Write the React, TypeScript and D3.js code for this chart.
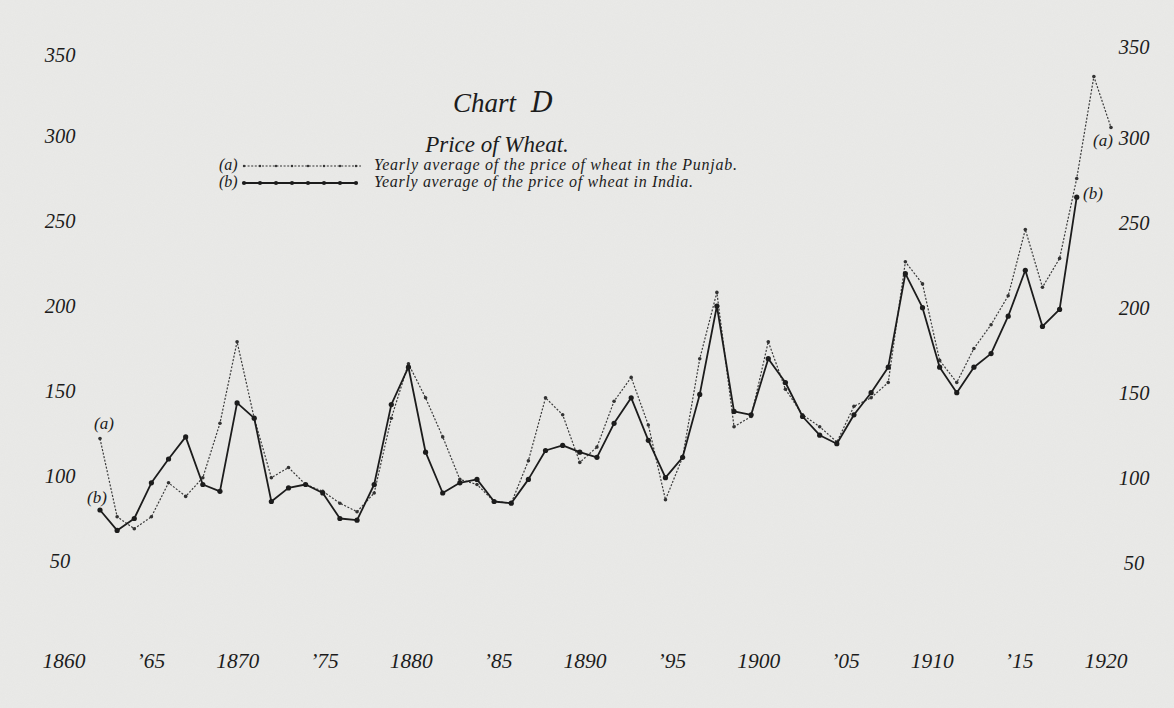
import React from "react";
import * as d3 from "d3";

const W = 1174;
const H = 708;

// Years for series (a): Punjab, 1861–1920
const yearsA = [
  1861, 1862, 1863, 1864, 1865, 1866, 1867, 1868, 1869, 1870,
  1871, 1872, 1873, 1874, 1875, 1876, 1877, 1878, 1879, 1880,
  1881, 1882, 1883, 1884, 1885, 1886, 1887, 1888, 1889, 1890,
  1891, 1892, 1893, 1894, 1895, 1896, 1897, 1898, 1899, 1900,
  1901, 1902, 1903, 1904, 1905, 1906, 1907, 1908, 1909, 1910,
  1911, 1912, 1913, 1914, 1915, 1916, 1917, 1918, 1919, 1920,
];
// (a) Yearly average of the price of wheat in the Punjab
const punjab = [
  122, 76, 69, 76, 96, 88, 99, 131, 179, 134,
  99, 105, 95, 91, 84, 79, 90, 134, 166, 146,
  123, 98, 95, 85, 84, 109, 146, 136, 108, 117,
  144, 158, 130, 86, 111, 169, 208, 129, 135, 179,
  151, 136, 129, 120, 141, 146, 155, 226, 213, 168,
  155, 175, 189, 206, 245, 211, 228, 275, 335, 305,
];
// Years for series (b): India, 1861–1918
const yearsB = yearsA.slice(0, 58);
// (b) Yearly average of the price of wheat in India
const india = [
  80, 68, 75, 96, 110, 123, 95, 91, 143, 134,
  85, 93, 95, 90, 75, 74, 95, 142, 164, 114,
  90, 96, 98, 85, 84, 98, 115, 118, 114, 111,
  131, 146, 121, 99, 111, 148, 200, 138, 136, 169,
  155, 135, 124, 119, 136, 149, 164, 219, 199, 164,
  149, 164, 172, 194, 221, 188, 198, 264,
];

const xTickYears = [1860, 1865, 1870, 1875, 1880, 1885, 1890, 1895, 1900, 1905, 1910, 1915, 1920];
const xTickLabels = ["1860", "\u201965", "1870", "\u201975", "1880", "\u201985", "1890", "\u201995", "1900", "\u201905", "1910", "\u201915", "1920"];
const yTicks = [50, 100, 150, 200, 250, 300, 350];

const title = "Chart";
const subtitle = "Price of Wheat.";
const legendA = "Yearly average of the price of wheat in the Punjab.";
const legendB = "Yearly average of the price of wheat in India.";

// data scale (plotted points)
const x = d3.scaleLinear().domain([1861, 1920]).range([100, 1111]);
// the printed year scale along the bottom (hand-lettered, slightly offset)
const xLabel = d3.scaleLinear().domain([1860, 1920]).range([64, 1106]);
const y = d3.scaleLinear().domain([100, 300]).range([476, 136]);

const ink = "#1c1c1c";
const font = "'Liberation Serif', 'DejaVu Serif', serif";

export default function App() {
  const ptsA: [number, number][] = yearsA.map((yr, i) => [x(yr), y(punjab[i])]);
  const ptsB: [number, number][] = yearsB.map((yr, i) => [x(yr), y(india[i])]);
  const line = d3.line();
  const legendDotsB = d3.range(0, 8).map((i) => 244 + i * 16);
  const legendDotsA = d3.range(0, 8).map((i) => 244 + i * 16);

  return (
    <svg
      width={W}
      height={H}
      style={{ position: "absolute", left: 0, top: 0, display: "block" }}
      fontFamily={font}
    >
      <defs>
        <filter id="paper" x="0" y="0" width="100%" height="100%">
          <feTurbulence type="fractalNoise" baseFrequency="0.9" numOctaves="2" seed="3" result="n" />
          <feColorMatrix
            in="n"
            type="matrix"
            values="0 0 0 0 0.55  0 0 0 0 0.55  0 0 0 0 0.54  0 0 0 0.16 0"
          />
        </filter>
      </defs>
      <rect x={0} y={0} width={W} height={H} fill="#eaeae8" />
      <rect x={0} y={0} width={W} height={H} filter="url(#paper)" opacity={0.55} />

      {/* Title */}
      <text x={453} y={112} fontSize={27} fontStyle="italic" fill={ink}>
        {title}
      </text>
      <text x={531} y={112} fontSize={28} fontStyle="italic" fill={ink} fontFamily="'DejaVu Serif', serif">
        D
      </text>
      <text x={497} y={152} fontSize={23} fontStyle="italic" fill={ink} textAnchor="middle">
        {subtitle}
      </text>

      {/* Legend */}
      <text x={219} y={170} fontSize={16} fontStyle="italic" fill={ink}>(a)</text>
      <line x1={244} y1={166} x2={361} y2={166} stroke="#333" strokeWidth={1.1} strokeDasharray="2,1.6" />
      {legendDotsA.map((cx, i) => (
        <circle key={"la" + i} cx={cx} cy={166} r={1.2} fill="#333" />
      ))}
      <text x={374} y={170} fontSize={16} fontStyle="italic" fill={ink} textLength={363} lengthAdjust="spacing">{legendA}</text>

      <text x={219} y={187} fontSize={16} fontStyle="italic" fill={ink}>(b)</text>
      <line x1={244} y1={183} x2={356} y2={183} stroke={ink} strokeWidth={1.8} />
      {legendDotsB.map((cx, i) => (
        <circle key={"lb" + i} cx={cx} cy={183} r={2.1} fill={ink} />
      ))}
      <text x={374} y={187} fontSize={16} fontStyle="italic" fill={ink} textLength={319} lengthAdjust="spacing">{legendB}</text>

      {/* Y axis labels left and right */}
      {yTicks.map((v) => (
        <text key={"yl" + v} x={60} y={y(v) + (v === 350 ? 4 : 0)} dy="0.35em" fontSize={20.5} fontStyle="italic" fill={ink} textAnchor="middle">
          {v}
        </text>
      ))}
      {yTicks.map((v) => (
        <text key={"yr" + v} x={1134} y={y(v) + (v === 350 ? -4 : 2)} dy="0.35em" fontSize={20.5} fontStyle="italic" fill={ink} textAnchor="middle">
          {v}
        </text>
      ))}

      {/* X axis labels */}
      {xTickYears.map((yr, i) => (
        <text key={"xl" + yr} x={xLabel(yr)} y={660} dy="0.35em" fontSize={21.5} fontStyle="italic" fill={ink} textAnchor="middle">
          {xTickLabels[i]}
        </text>
      ))}

      {/* Series (a) Punjab: dotted */}
      <path d={line(ptsA) || ""} fill="none" stroke="#3a3a3a" strokeWidth={1.2} strokeDasharray="2,1.6" />
      {ptsA.map(([cx, cy], i) => (
        <circle key={"pa" + i} cx={cx} cy={cy} r={1.8} fill="#333" />
      ))}

      {/* Series (b) India: solid */}
      <path d={line(ptsB) || ""} fill="none" stroke={ink} strokeWidth={1.8} strokeLinejoin="round" />
      {ptsB.map(([cx, cy], i) => (
        <circle key={"pb" + i} cx={cx} cy={cy} r={2.6} fill={ink} />
      ))}

      {/* Series annotations */}
      <text x={104} y={423} dy="0.35em" fontSize={17} fontStyle="italic" fill={ink} textAnchor="middle">(a)</text>
      <text x={97} y={497} dy="0.35em" fontSize={17} fontStyle="italic" fill={ink} textAnchor="middle">(b)</text>
      <text x={1103} y={y(300) + 4} dy="0.35em" fontSize={17} fontStyle="italic" fill={ink} textAnchor="middle">(a)</text>
      <text x={1093} y={193} dy="0.35em" fontSize={17} fontStyle="italic" fill={ink} textAnchor="middle">(b)</text>
    </svg>
  );
}
